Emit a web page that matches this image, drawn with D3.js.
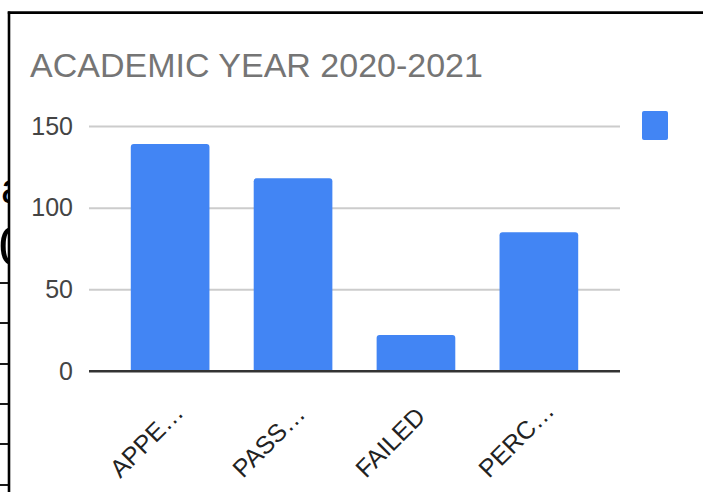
<!DOCTYPE html>
<html>
<head>
<meta charset="utf-8">
<script src="https://cdn.jsdelivr.net/npm/d3@7"></script>
<style>
  html, body { margin: 0; padding: 0; background: #fff; }
  svg { display: block; font-family: "Liberation Sans", Arial, sans-serif; }
</style>
</head>
<body>
<div id="chart"></div>
<script>
// chart values
var categories = ['APPE\u2026', 'PASS\u2026', 'FAILED', 'PERC\u2026'];
var values = [139, 118, 22, 85];
var yTicks = [0, 50, 100, 150];
var title = 'ACADEMIC YEAR 2020-2021';

// bits of the page behind the chart, cut off at the left edge
var backText = [{t: 'a', x: 1, y: 203, size: 42}, {t: '0', x: -1.5, y: 265, size: 56}];
var backRows = [283, 323, 364, 404, 444, 485];

var W = 703, H = 492;
var margin = {top: 126, right: 83, bottom: 121, left: 89};
var width = W - margin.left - margin.right;
var height = H - margin.top - margin.bottom;

var svg = d3.select('#chart').append('svg')
    .attr('width', W)
    .attr('height', H);

svg.append('rect').attr('width', W).attr('height', H).attr('fill', '#fff');

// leftovers behind the panel
svg.selectAll('.back-text')
    .data(backText)
    .enter().append('text')
    .attr('class', 'back-text')
    .attr('x', function(d) { return d.x; })
    .attr('y', function(d) { return d.y; })
    .style('font-size', function(d) { return d.size + 'px'; })
    .attr('fill', '#000')
    .text(function(d) { return d.t; });

svg.selectAll('.back-row')
    .data(backRows)
    .enter().append('line')
    .attr('class', 'back-row')
    .attr('x1', 0).attr('x2', 9)
    .attr('y1', function(d) { return d; })
    .attr('y2', function(d) { return d; })
    .attr('stroke', '#000')
    .attr('stroke-width', 1.8);

// chart panel + its black frame
svg.append('rect')
    .attr('x', 9).attr('y', 12.5)
    .attr('width', W - 9).attr('height', H - 12.5)
    .attr('fill', '#fff');
svg.append('line')
    .attr('x1', 7.8).attr('x2', W).attr('y1', 12.6).attr('y2', 12.6)
    .attr('stroke', '#000').attr('stroke-width', 2.6);
svg.append('line')
    .attr('x1', 9).attr('x2', 9).attr('y1', 11.5).attr('y2', H)
    .attr('stroke', '#000').attr('stroke-width', 2.6);

svg.append('text')
    .attr('x', 30)
    .attr('y', 77)
    .style('font-size', '34px')
    .attr('fill', '#757575')
    .text(title);

var g = svg.append('g')
    .attr('transform', 'translate(' + margin.left + ',' + margin.top + ')');

var x = d3.scaleBand()
    .domain(categories)
    .range([0, width])
    .paddingInner(0.36)
    .paddingOuter(0.34);

var y = d3.scaleLinear()
    .domain([0, 150])
    .range([height, 0]);

var yAxis = d3.axisLeft(y)
    .tickValues(yTicks)
    .tickSize(-width)
    .tickPadding(16);

var yg = g.append('g').attr('class', 'axis axis--y').call(yAxis);
yg.select('.domain').remove();
yg.selectAll('line')
    .attr('stroke', function(d) { return d === 0 ? '#333' : '#cccccc'; })
    .attr('stroke-width', 2);
yg.selectAll('text')
    .attr('fill', '#444')
    .style('font-size', '25px')
    .attr('font-family', null);

function barPath(d, i) {
    var x0 = x(categories[i]), w = x.bandwidth();
    var y0 = y(d), y1 = y(0), r = 3;
    return 'M' + x0 + ',' + y1 +
        'V' + (y0 + r) +
        'Q' + x0 + ',' + y0 + ' ' + (x0 + r) + ',' + y0 +
        'H' + (x0 + w - r) +
        'Q' + (x0 + w) + ',' + y0 + ' ' + (x0 + w) + ',' + (y0 + r) +
        'V' + y1 + 'Z';
}

g.selectAll('.bar')
    .data(values)
    .enter().append('path')
    .attr('class', 'bar')
    .attr('d', barPath)
    .attr('fill', '#4285f4');

// zero line sits on top of the bars
g.append('line')
    .attr('x1', 0).attr('x2', width)
    .attr('y1', y(0)).attr('y2', y(0))
    .attr('stroke', '#333').attr('stroke-width', 2);

var xAxis = d3.axisBottom(x).tickSize(0);
var xg = g.append('g')
    .attr('class', 'axis axis--x')
    .attr('transform', 'translate(0,' + height + ')')
    .call(xAxis);
xg.select('.domain').remove();
xg.selectAll('text')
    .attr('x', 0).attr('y', 0).attr('dy', 0)
    .attr('text-anchor', 'start')
    .attr('fill', '#222')
    .style('font-size', '25px')
    .attr('transform', 'translate(-50,108) rotate(-45)');

// legend swatch (no label)
svg.append('rect')
    .attr('x', 642).attr('y', 111)
    .attr('width', 26).attr('height', 29)
    .attr('rx', 2)
    .attr('fill', '#4285f4');
</script>
</body>
</html>
